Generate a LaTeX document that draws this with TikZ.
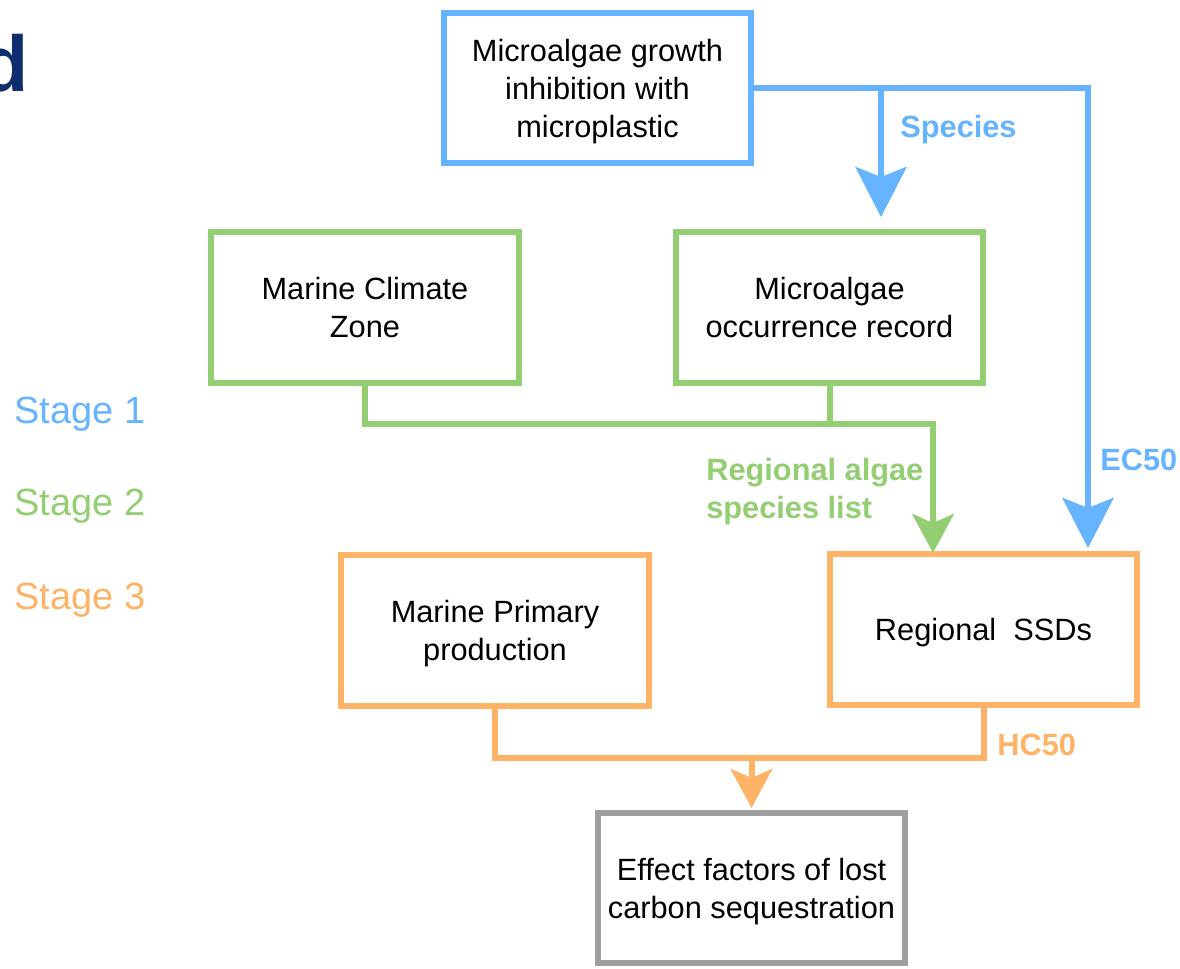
\documentclass[tikz,border=0pt]{standalone}
\usepackage{fontspec}
\setmainfont{Liberation Sans}
\usetikzlibrary{arrows.meta}
\definecolor{cblue}{RGB}{102,179,255}
\definecolor{cgreen}{RGB}{147,206,115}
\definecolor{corange}{RGB}{255,179,102}
\definecolor{cgray}{RGB}{158,158,158}
\definecolor{ctitle}{RGB}{13,45,110}
\tikzset{
  box/.style={draw, line width=0.12cm, minimum width=6.16cm, minimum height=3.02cm, align=center, inner sep=0pt, text depth=0pt, font=\fontsize{17.5}{21.6}\selectfont, text=black},
  conn/.style={line width=0.12cm},
  bigtip/.style={-{Stealth[length=1cm, width=1.02cm, inset=0.2cm]}},
  smalltip/.style={-{Stealth[length=0.78cm, width=0.83cm, inset=0.18cm]}},
  lbl/.style={font=\bfseries\fontsize{17.5}{21.6}\selectfont, anchor=west, inner sep=0pt, text depth=0pt, align=left},
  stage/.style={font=\fontsize{21.6}{26}\selectfont, anchor=west, inner sep=0pt, text depth=0pt}
}
\begin{document}
\begin{tikzpicture}[x=0.02cm, y=-0.02cm]
\useasboundingbox (0,0) rectangle (1180,969);
\clip (0,0) rectangle (1180,969);
\node[anchor=base west, inner sep=0pt, text=ctitle, font=\bfseries\fontsize{45}{50}\selectfont] (title) at (-19.7,92) {d};

\node[box, draw=cblue] (top) at (597.5,88) {Microalgae growth\\inhibition with\\microplastic};
\node[box, draw=cgreen] (mcz) at (365,307.5) {Marine Climate\\Zone};
\node[box, draw=cgreen] (occ) at (829.5,307.5) {Microalgae\\occurrence record};
\node[box, draw=corange] (mpp) at (495,630.5) {Marine Primary\\production};
\node[box, draw=corange] (ssd) at (983.5,629.5) {Regional~~SSDs};
\node[box, draw=cgray] (eff) at (751.5,888) {Effect factors of lost\\carbon sequestration};

% blue connectors
\coordinate (bj) at (881,88);
\coordinate (btip) at (881,217);
\coordinate (ectip) at (1088,548);
\draw[conn, draw=cblue, line join=miter] (top.east) -- (1088,88) -- (1088,300);
\draw[conn, draw=cblue, bigtip] (1088,290) -- (ectip);
\draw[conn, draw=cblue, bigtip] (bj) -- (btip);

% green connectors
\coordinate (gj) at (829.5,424);
\coordinate (gtip) at (933,553);
\draw[conn, draw=cgreen, line join=miter] (mcz.south) |- (933,424) -- (933,480);
\draw[conn, draw=cgreen, smalltip] (933,470) -- (gtip);
\draw[conn, draw=cgreen] (occ.south) -- (gj);

% orange connectors
\coordinate (oj) at (751.5,758);
\coordinate (otip) at (751.5,808);
\draw[conn, draw=corange, line join=miter] (mpp.south) -- (mpp.south |- oj) -| (ssd.south);
\draw[conn, draw=corange, smalltip] (oj) -- (otip);

% labels
\node[lbl, text=cblue] (lsp) at (900,126) {Species};
\node[lbl, text=cblue] (lec) at (1100,460) {EC50};
\node[lbl, text=cgreen, anchor=north west] (lreg) at (706,458) {Regional algae\\species list};
\node[lbl, text=corange] (lhc) at (997,745) {HC50};

\node[stage, text=cblue] (s1) at (14,410) {Stage 1};
\node[stage, text=cgreen] (s2) at (14,502) {Stage 2};
\node[stage, text=corange] (s3) at (14,596) {Stage 3};
\end{tikzpicture}
\end{document}
